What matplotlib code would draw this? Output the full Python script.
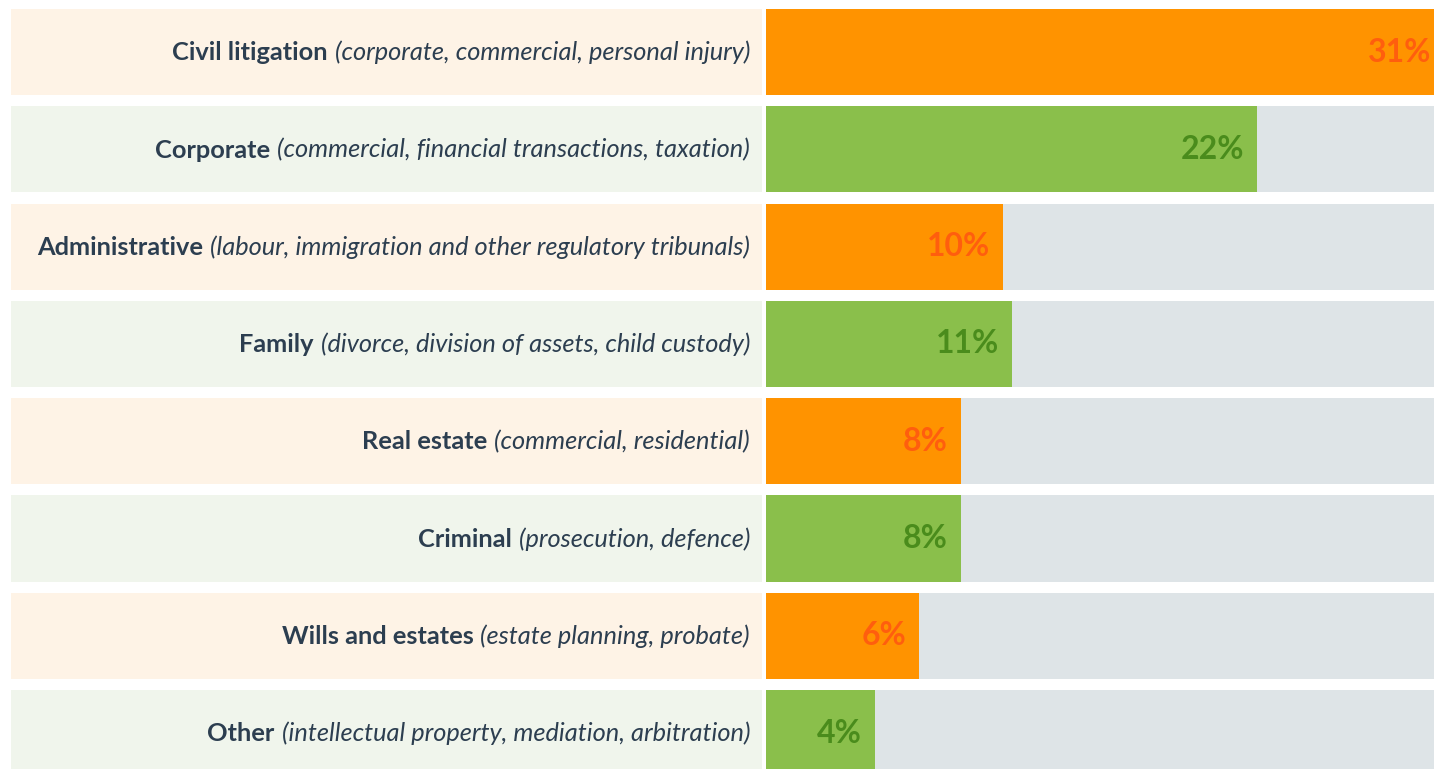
import matplotlib
matplotlib.use("Agg")
import matplotlib.pyplot as plt
import numpy as np

# --------------------------------------------------
# data
# --------------------------------------------------
areas = ["Civil litigation", "Corporate", "Administrative", "Family",
         "Real estate", "Criminal", "Wills and estates", "Other"]
details = ["(corporate, commercial, personal injury)",
           "(commercial, financial transactions, taxation)",
           "(labour, immigration and other regulatory tribunals)",
           "(divorce, division of assets, child custody)",
           "(commercial, residential)",
           "(prosecution, defence)",
           "(estate planning, probate)",
           "(intellectual property, mediation, arbitration)"]
share_labels = ["31%", "22%", "10%", "11%", "8%", "8%", "6%", "4%"]
# bar lengths (axis runs 0..31.07)
bar_lengths = [31.55, 22.84, 11.02, 11.44, 9.07, 9.07, 7.12, 5.07]

ORANGE = "#FF9300"
GREEN = "#8ABF4B"
ORANGE_TXT = "#FF5E0E"
GREEN_TXT = "#4A8C1C"
GREY = "#DEE4E7"
CREAM = "#FEF3E6"
MINT = "#F0F5EC"
INK = "#2C3E50"

plt.rcParams["font.family"] = ["Lato", "DejaVu Sans"]

W, H = 1434, 769
fig = plt.figure(figsize=(W / 100, H / 100), dpi=100)

n = len(areas)
y = np.arange(n)
pitch = 97.3
row_h = 86 / pitch
ylim = ((H - 52) / pitch, -52 / pitch)
XMAX = 31.07

# left: label panels
axl = fig.add_axes([0, 0, 766 / W, 1])
axl.set_xlim(0, 766)
axl.set_ylim(*ylim)
axl.axis("off")
panel_cols = [CREAM if i % 2 == 0 else MINT for i in range(n)]
axl.barh(y, 751, left=11, height=row_h, color=panel_cols)

for i in range(n):
    it = axl.text(750, i + 0.085, details[i], ha="right", va="baseline",
                  fontsize=18.3, style="italic", color=INK)
    axl.annotate(areas[i], xy=(0, i + 0.085), xycoords=(it, "data"),
                 xytext=(-5, 0), textcoords="offset points",
                 ha="right", va="baseline", fontsize=18.3,
                 fontweight="bold", color=INK)

# right: bars
axr = fig.add_axes([766 / W, 0, 668 / W, 1])
axr.set_xlim(0, XMAX)
axr.set_ylim(*ylim)
axr.axis("off")
axr.barh(y, XMAX, height=row_h, color=GREY)
bar_cols = [ORANGE if i % 2 == 0 else GREEN for i in range(n)]
axr.barh(y, bar_lengths, height=row_h, color=bar_cols)

for i in range(n):
    axr.annotate(share_labels[i], xy=(bar_lengths[i], i), xytext=(-13, 0),
                 textcoords="offset pixels", ha="right", va="center",
                 fontsize=23, fontweight="bold", annotation_clip=False,
                 color=ORANGE_TXT if i % 2 == 0 else GREEN_TXT)

fig.savefig("out.png", dpi=100)
